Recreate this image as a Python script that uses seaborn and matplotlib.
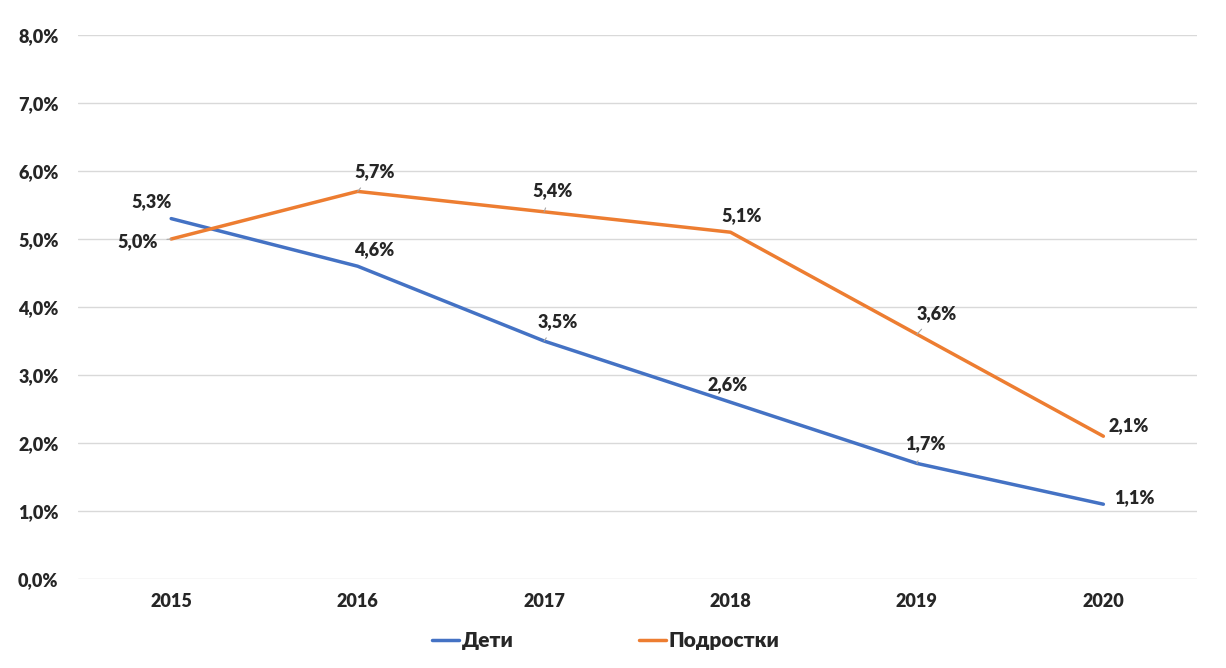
import matplotlib.pyplot as plt
import seaborn as sns
import pandas as pd

# %% data
years = ['2015', '2016', '2017', '2018', '2019', '2020']
deti = [5.3, 4.6, 3.5, 2.6, 1.7, 1.1]
podrostki = [5.0, 5.7, 5.4, 5.1, 3.6, 2.1]
series_names = ['Дети', 'Подростки']
y_ticks = [0, 1, 2, 3, 4, 5, 6, 7, 8]

df = pd.DataFrame({'year': years * 2,
                   'value': deti + podrostki,
                   'group': [series_names[0]] * 6 + [series_names[1]] * 6})

# %% plot
sns.set_style('white')
plt.rcParams['font.family'] = ['Lato', 'DejaVu Sans']
plt.rcParams['font.weight'] = 'heavy'

fig = plt.figure(figsize=(12.26, 6.68), dpi=100)
ax = fig.add_axes([0.0636, 0.1332, 0.9124, 0.8144])

palette = {'Дети': '#4472C4', 'Подростки': '#ED7D31'}
sns.lineplot(data=df, x='year', y='value', hue='group', palette=palette,
             linewidth=2.5, ax=ax, sort=False)

ax.set_xlim(-0.5, 5.5)
ax.set_ylim(0, 8)
ax.set_yticks(y_ticks)
ax.set_yticklabels(['{:.1f}%'.format(v).replace('.', ',') for v in y_ticks])
ax.grid(axis='y', color='#d9d9d9', linewidth=1)
ax.set_axisbelow(True)
for s in ax.spines.values():
    s.set_visible(False)
ax.tick_params(axis='both', length=0, labelsize=13, pad=10)
ax.tick_params(axis='y', pad=14)
for lab in ax.get_xticklabels() + ax.get_yticklabels():
    lab.set_fontweight('heavy')
ax.set_xlabel('')
ax.set_ylabel('')

# data labels (offsets in points), leader=True draws the thin gray line
deti_offsets = [(-14, 12, False), (12, 12, False), (10, 14, True),
                (-2, 13, False), (6, 14, True), (22, 5, False)]
podr_offsets = [(-24, -2, True), (12, 14, True), (6, 15, True),
                (8, 12, False), (14, 15, True), (18, 8, False)]

def label_points(vals, offsets):
    for i, (v, (dx, dy, lead)) in enumerate(zip(vals, offsets)):
        txt = '{:.1f}%'.format(v).replace('.', ',')
        kw = {}
        if lead:
            kw['arrowprops'] = dict(arrowstyle='-', color='#a6a6a6', lw=0.8,
                                    shrinkA=4, shrinkB=0)
        ax.annotate(txt, (i, v), xytext=(dx, dy), textcoords='offset points',
                    ha='center', va='center', fontsize=13, fontweight='heavy',
                    **kw)

label_points(deti, deti_offsets)
label_points(podrostki, podr_offsets)

handles, labels = ax.get_legend_handles_labels()
ax.get_legend().remove()
leg = fig.legend(handles, labels, loc='upper center',
                 bbox_to_anchor=(0.494, 0.083), ncol=2,
                 frameon=False, fontsize=15, handlelength=1.3, columnspacing=6,
                 handletextpad=0.15)
for t in leg.get_texts():
    t.set_fontweight('heavy')

fig.savefig('out.png', dpi=100)
